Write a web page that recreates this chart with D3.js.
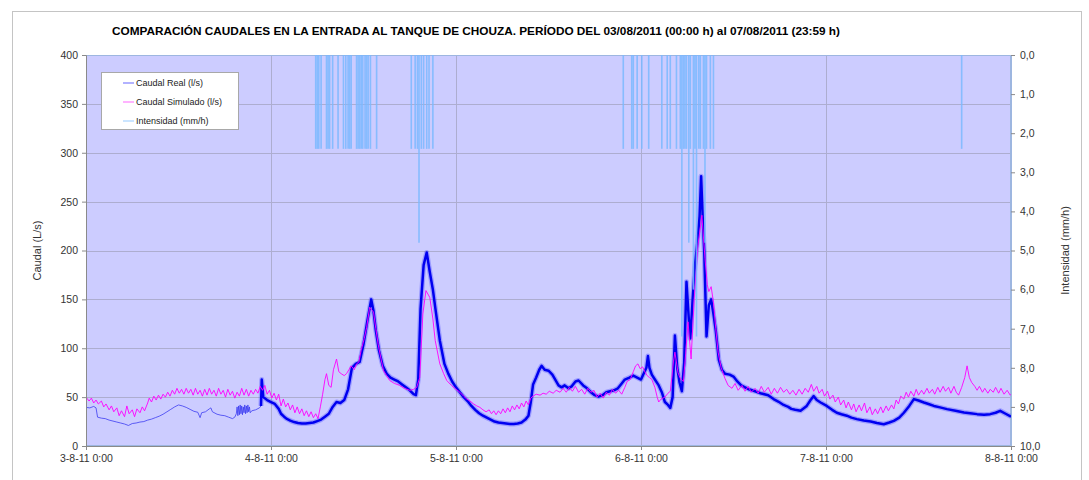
<!DOCTYPE html>
<html><head><meta charset="utf-8">
<script src="https://cdn.jsdelivr.net/npm/d3@7"></script>
<style>
html,body{margin:0;padding:0;background:#fff;}
svg{display:block;font-family:"Liberation Sans",Arial,sans-serif;}
</style></head>
<body><svg id="c" width="1089" height="480"></svg>
<script>
// ---------------- DATA ----------------
const titleText = "COMPARACIÓN CAUDALES EN LA ENTRADA AL TANQUE DE CHOUZA. PERÍODO DEL 03/08/2011 (00:00 h) al 07/08/2011 (23:59 h)";
const xTickHours = [0, 24, 48, 72, 96, 120];
const xTickLabels = ["3-8-11 0:00", "4-8-11 0:00", "5-8-11 0:00", "6-8-11 0:00", "7-8-11 0:00", "8-8-11 0:00"];
const leftTicks = [0, 50, 100, 150, 200, 250, 300, 350, 400];
const rightTicks = [0, 1, 2, 3, 4, 5, 6, 7, 8, 9, 10];
const seriesNames = ["Caudal Real (l/s)", "Caudal Simulado (l/s)", "Intensidad (mm/h)"];

// Caudal real [hour since 03/08 0:00, l/s] - first day (low-noise record)
const realDay1 = [[0,39.5],[0.5,39],[1,40.5],[1.3,39],[1.5,29.5],[2,28.5],[2.5,28],[3,26.5],[3.5,25.5],[4,24.5],[4.5,23.5],[5,22.5],[5.5,21],[6,23],[6.5,23.5],[7,24.5],[7.5,25],[8,26.5],[8.5,27.5],[9,29],[9.5,30.5],[10,32.5],[10.5,35],[11,37.5],[11.5,40],[12,42],[12.5,41],[13,39.5],[13.5,37.5],[14,35.5],[14.5,34.5],[14.8,29],[15,34],[15.5,35],[16,38],[16.2,39],[16.4,35],[17,32.5],[17.5,31.5],[18,31],[18.5,29.5],[19,28],[19.3,29.5],[19.5,33],[19.6,40],[19.7,31],[19.8,41],[19.9,32],[20,42],[20.1,33],[20.2,41],[20.3,32],[20.4,40],[20.5,34],[20.6,42],[20.7,33],[20.8,41],[20.9,34],[21,42],[21.1,35],[21.2,40],[21.3,34],[21.5,36],[22,37],[22.5,39],[22.7,41]];
// Caudal real - rest of the period (noisy record)
const realRest = [[22.7,41],[22.8,68],[23,50],[23.5,47],[24,45],[24.5,43],[25,38],[25.3,33],[25.7,30],[26,28],[26.5,26],[27,24.5],[27.5,23.5],[28,23],[28.5,23],[29,23.5],[29.5,24],[30,25.5],[30.5,27],[31,30],[31.5,33],[32,40],[32.5,45],[33,44],[33.5,47],[34,58],[34.5,80],[35,84],[35.5,86],[36,104],[36.5,128],[37,150],[37.3,138],[37.6,118],[38,98],[38.5,82],[39,74],[39.5,70],[40,68],[40.5,66],[41,63],[41.5,60],[42,57],[42.5,53],[42.8,52],[43.1,68],[43.4,140],[43.8,185],[44.2,198],[44.6,178],[45,160],[45.3,142],[45.9,108],[46.5,84],[47,74],[47.5,66],[48,60],
[48.5,55],[49,50],[49.5,46],[50,41],[50.5,37],[51,33.5],[51.5,31],[52,29],[52.5,27],[53,25],[53.5,24],[54,23.5],[54.5,23],[55,22.5],[55.5,22.5],[56,23],[56.5,24],[57,27],[57.4,31],[57.7,45],[58,63],[58.4,70],[58.8,78],[59.1,82],[59.5,78],[60,77],[60.5,73],[60.8,69],[61.3,62],[61.7,60],[62.1,62],[62.6,59],[63,61],[63.5,66],[63.9,67],[64.5,62],[65,59],[65.5,55],[66,52],[66.5,50.5],[67,52],[67.5,55],[68,56],[68.5,57],[69,59],[69.5,64],[69.9,68],[70.5,70],[71,72],[71.5,70],[72,68],[72.4,75],[72.7,80],[72.9,92],[73.1,80],[73.4,73],[73.8,68],[74.3,62],[74.7,55],[75.1,45],[75.5,42],[75.8,39],[76.1,50],[76.4,113],[76.7,80],[77,65],[77.3,56],[77.6,85],[77.9,168],[78.2,130],[78.4,110],[78.7,150],[79,185],[79.4,215],[79.6,235],[79.8,276],[80,235],[80.2,200],[80.5,112],[80.8,144],[81.1,150],[81.4,135],[81.7,118],[82.1,88],[82.5,78],[82.9,74],[83.5,73],[84,71],[84.5,66],[85,62],[85.5,60],[86,58],[86.8,56],[87.5,54],[88.5,52],[89.2,48],[89.8,45.5],[90.5,42],[91.1,40],[91.5,38],[92,37],
[92.7,36],[93.5,41],[94,47],[94.4,51],[94.8,47],[95.3,44.5],[96.1,41],[96.8,37],[97.4,34],[98,32.5],[98.7,31],[99.3,29],[100,27.5],[100.9,26],[101.8,25],[102.6,23.5],[103.5,22.3],[104.2,24],[104.8,25.7],[105.5,29],[106.1,34],[106.8,41],[107.4,48],[108,46.5],[108.7,44.5],[109.3,43],[110,41],[110.8,39.5],[111.7,37.7],[112.8,36],[113.9,34.3],[114.7,33.5],[115.6,32.6],[116.5,32],[117.3,32.6],[118,34],[118.6,36],[119.3,33],[120,30]];

// Caudal simulado [hour, l/s]
const simulated = [[0,50],[0.4,46],[0.7,49],[1,44],[1.3,47],[1.6,43],[2,46],[2.3,40],[2.6,43],[3,37],[3.3,41],[3.6,35],[4,39],[4.3,31],[4.6,36],[5,30],[5.3,41],[5.6,33],[6,37],[6.3,30],[6.6,38],[7,34],[7.3,40],[7.6,36],[8,44],[8.2,49],[8.5,45],[8.8,51],[9.1,47],[9.4,52],[9.7,48],[10,53],[10.3,50],[10.6,55],[10.9,51],[11.2,57],[11.5,53],[11.8,59],[12.1,54],[12.4,58],[12.7,53],[13,59],[13.3,54],[13.6,58],[13.9,52],[14.2,59],[14.5,53],[14.8,57],[15.1,51],[15.4,58],[15.7,52],[16,59],[16.3,53],[16.6,57],[16.9,51],[17.2,59],[17.5,53],[17.8,57],[18.1,50],[18.4,58],[18.7,52],[19,56],[19.3,49],[19.6,55],[19.9,51],[20.2,59],[20.5,52],[20.8,58],[21.1,51],[21.4,57],[21.7,53],[22,58],[22.3,54],[22.6,61],[22.9,57],[23.2,62],[23.5,53],[23.8,57],
[24.1,49],[24.4,54],[24.7,47],[25,53],[25.3,41],[25.6,48],[25.9,40],[26.2,44],[26.5,37],[26.8,42],[27.1,34],[27.4,40],[27.7,33],[28,38],[28.3,31],[28.6,36],[28.9,30],[29.2,35],[29.5,29],[29.8,33],[30.1,28],[30.4,40],[30.7,53],[31,68],[31.2,74],[31.5,62],[31.8,60],[32.1,78],[32.5,89],[32.8,76],[33.1,74],[33.5,72],[33.8,74],[34.1,78],[34.4,82],[34.8,78],[35.1,84],[35.4,86],[35.7,98],[36.1,110],[36.4,121],[36.8,142],[37.1,139],[37.3,137],[37.6,120],[37.9,104],[38.3,88],[38.6,77],[39,72],[39.4,67],[40,64],[40.7,62],[41.3,59],[42,57],[42.5,58],[42.9,60],[43.3,70],[43.7,135],[44.1,159],[44.6,152],[45,130],[45.3,108],[45.9,84],[46.4,74],[46.8,67],[47.4,62],[48,58],
[48.5,55],[49,51],[49.4,48],[49.8,46],[50.3,43],[50.7,41],[51.1,39.5],[51.5,37],[51.9,35],[52.3,37],[52.6,33],[52.9,36],[53.2,32],[53.5,36],[53.8,33],[54.1,38],[54.4,34],[54.7,39],[55,35],[55.3,41],[55.6,37],[55.9,42],[56.2,38],[56.5,44],[56.8,40],[57.1,46],[57.4,42],[57.7,49],[58,51],[58.4,53],[58.9,52],[59.3,54],[59.7,53],[60.1,56],[60.6,54],[61,57],[61.5,55],[61.9,59],[62.3,55],[62.7,60],[63.1,56],[63.5,61],[63.9,55],[64.3,58],[64.7,53],[65.1,59],[65.5,55],[65.9,57],[66.3,50],[66.7,54],[67.1,49],[67.5,55],[67.9,52],[68.3,58],[68.7,54],[69.1,57],[69.5,53],[69.9,60],[70.2,66],[70.6,68],[71,76],[71.3,82],[71.6,84],[71.9,79],[72.2,81],[72.5,76],[72.8,72],[73.1,70],[73.4,68],[73.8,60],[74.1,50],[74.3,45],[74.6,48],[75.1,50],[75.5,54],[75.8,56],[76,70],[76.2,86],[76.4,96],[76.8,75],[77.1,69],[77.5,66],[77.8,95],[78.1,127],[78.5,89],[78.9,151],[79.4,206],[79.9,236],[80.3,192],[80.6,165],[80.8,158],[81.1,163],[81.4,147],[81.7,120],[82,96],[82.4,80],[82.9,69],[83.3,62],[83.8,59],[84.2,64],[84.6,57],[85.1,62],[85.5,56],[85.9,61],[86.3,55],[86.8,59],[87.2,54],[87.6,61],[88,55],[88.5,60],[88.9,53],[89.3,59],[89.7,54],[90.1,60],[90.5,55],[90.9,58],[91.3,53],[91.7,57],[92.1,52],[92.5,58],[92.9,53],[93.3,59],[93.7,55],[94.1,63],[94.4,56],[94.8,61],[95.1,54],[95.5,58],[95.8,51],
[96.2,56],[96.5,48],[96.9,52],[97.2,45],[97.6,50],[97.9,42],[98.3,47],[98.6,39],[98.9,45],[99.3,37],[99.6,43],[99.9,35],[100.3,42],[100.6,36],[101,44],[101.3,34],[101.7,40],[102,32],[102.4,38],[102.7,33],[103.1,40],[103.4,34],[103.8,41],[104.1,36],[104.5,42],[104.8,38],[105.1,47],[105.4,43],[105.7,51],[106.1,48],[106.4,55],[106.7,50],[107,56],[107.4,51],[107.7,58],[108,52],[108.4,57],[108.7,53],[109.1,59],[109.4,54],[109.8,58],[110.1,53],[110.5,60],[110.8,55],[111.2,61],[111.5,56],[111.9,60],[112.2,54],[112.6,61],[112.9,55],[113.2,52],[113.6,60],[114,70],[114.3,82],[114.6,70],[114.9,65],[115.3,61],[115.6,57],[115.9,61],[116.3,55],[116.6,59],[117,54],[117.3,58],[117.7,55],[118,60],[118.4,54],[118.7,59],[119.1,53],[119.5,57],[119.9,52],[120,53]];

// Intensidad de lluvia [hour, mm/h]
const rainfall = [[29.8,2.4],[30.0,2.4],[30.2,2.4],[30.5,2.4],[31.2,2.4],[31.4,2.4],[31.6,2.4],[32.0,2.4],[32.7,2.4],[33.4,2.4],[33.7,2.4],[34.0,2.4],[34.2,2.4],[34.4,2.4],[35.1,2.4],[35.3,2.4],[35.5,2.4],[35.7,2.4],[35.9,2.4],[36.2,2.4],[36.4,2.4],[36.6,2.4],[36.9,2.4],[37.7,2.4],
[42.2,2.4],[42.7,2.4],[43.0,2.4],[43.2,4.8],[43.5,2.4],[43.8,2.4],[44.2,2.4],[44.5,2.4],[45.0,2.4],
[69.7,2.4],[70.8,2.4],[71.0,2.4],[71.5,2.4],[72.1,2.4],[73.0,2.4],[74.7,2.4],[75.4,2.4],[75.8,2.4],[76.6,2.4],[77.1,2.4],[77.3,7.2],[77.5,2.4],[77.7,2.4],[77.9,2.4],[78.2,4.8],[78.4,2.4],[78.8,6.0],[79.0,2.4],[79.2,7.2],[79.5,2.4],[79.7,2.4],[80.1,2.4],[80.3,4.8],[80.5,2.4],[81.0,2.4],[81.4,2.4],
[113.6,2.4]];

// ---------------- CHART ----------------
const svg = d3.select("#c");
const L = 86, R = 1011, T = 55, B = 446;

const x = d3.scaleLinear().domain([0, 120]).range([L, R]);
const yL = d3.scaleLinear().domain([0, 400]).range([B, T]);
const yR = d3.scaleLinear().domain([0, 10]).range([T, B]);

// outer frame
svg.append("rect").attr("x", 12.5).attr("y", 11.5).attr("width", 1069).attr("height", 490)
  .attr("fill", "#fff").attr("stroke", "#c4c4c4").attr("stroke-width", 1);

// title
svg.append("text").attr("x", 476).attr("y", 35).attr("text-anchor", "middle")
  .attr("font-size", 11).attr("font-weight", "bold").attr("fill", "#000")
  .attr("textLength", 728).attr("lengthAdjust", "spacingAndGlyphs")
  .text(titleText);

// plot background
svg.append("rect").attr("x", L).attr("y", T).attr("width", R - L).attr("height", B - T)
  .attr("fill", "#ccccff");

// gridlines
svg.append("g").selectAll("line").data(leftTicks.filter(d => d > 0 && d < 400)).join("line")
  .attr("x1", L).attr("x2", R).attr("y1", d => Math.round(yL(d)) + 0.5).attr("y2", d => Math.round(yL(d)) + 0.5)
  .attr("stroke", "#adadd0").attr("stroke-width", 1);
svg.append("g").selectAll("line").data(xTickHours.slice(1, -1)).join("line")
  .attr("y1", T).attr("y2", B).attr("x1", d => Math.round(x(d)) + 0.5).attr("x2", d => Math.round(x(d)) + 0.5)
  .attr("stroke", "#adadd0").attr("stroke-width", 1);

// plot border
svg.append("rect").attr("x", L + 0.5).attr("y", T + 0.5).attr("width", R - L - 1).attr("height", B - T - 1)
  .attr("fill", "none").attr("stroke", "#9db6e0").attr("stroke-width", 1);

const line = d3.line().x(d => x(d[0])).y(d => yL(d[1]));
svg.append("clipPath").attr("id", "pc").append("rect")
  .attr("x", L).attr("y", T).attr("width", R - L).attr("height", B - T);
const plot = svg.append("g").attr("clip-path", "url(#pc)");

// caudal real
plot.append("path").datum(realDay1).attr("d", line).attr("fill", "none")
  .attr("stroke", "#3434f0").attr("stroke-width", 1).attr("stroke-opacity", 0.75);
plot.append("path").datum(realRest).attr("d", line).attr("fill", "none")
  .attr("stroke", "#2020ff").attr("stroke-width", 5).attr("stroke-opacity", 0.28).attr("stroke-linejoin", "round");
plot.append("path").datum(realRest).attr("d", line).attr("fill", "none")
  .attr("stroke", "#0000f0").attr("stroke-width", 2.5).attr("stroke-linejoin", "round");

// caudal simulado
plot.append("path").datum(simulated).attr("d", line).attr("fill", "none")
  .attr("stroke", "#ff00ff").attr("stroke-width", 1).attr("stroke-opacity", 0.9);

// intensidad
plot.append("g").selectAll("line").data(rainfall).join("line")
  .attr("x1", d => x(d[0])).attr("x2", d => x(d[0]))
  .attr("y1", yR(0)).attr("y2", d => yR(d[1]))
  .attr("stroke", "#7ab8ff").attr("stroke-width", 1.6).attr("stroke-opacity", 0.85);

// axes
const axColor = "#8a8a8a";
const fmtR = d3.formatLocale({decimal: ",", thousands: ".", grouping: [3], currency: ["", "€"]}).format(".1f");

const axL = svg.append("g").attr("transform", `translate(${L},0)`)
  .call(d3.axisLeft(yL).tickValues(leftTicks).tickSize(4).tickPadding(4).tickFormat(d3.format("d")));
const axR = svg.append("g").attr("transform", `translate(${R},0)`)
  .call(d3.axisRight(yR).tickValues(rightTicks).tickSize(4).tickPadding(5).tickFormat(fmtR));
const axB = svg.append("g").attr("transform", `translate(0,${B})`)
  .call(d3.axisBottom(x).tickValues(xTickHours).tickSize(4).tickPadding(5)
    .tickFormat((d, i) => xTickLabels[i]));
[axL, axR, axB].forEach(a => {
  a.selectAll(".domain").attr("stroke", axColor);
  a.selectAll(".tick line").attr("stroke", axColor);
  a.selectAll("text").attr("font-size", 10.5).attr("fill", "#333")
    .attr("font-family", "'Liberation Sans', Arial, sans-serif");
});
axR.select(".domain").attr("stroke", "#9db6e0");

// axis titles
svg.append("text").attr("transform", `translate(41,${(T + B) / 2}) rotate(-90)`)
  .attr("text-anchor", "middle").attr("font-size", 11).attr("fill", "#333").text("Caudal (L/s)");
svg.append("text").attr("transform", `translate(1069,${(T + B) / 2}) rotate(-90)`)
  .attr("text-anchor", "middle").attr("font-size", 11).attr("fill", "#333").text("Intensidad (mm/h)");

// legend
const lg = svg.append("g");
lg.append("rect").attr("x", 101.5).attr("y", 72.5).attr("width", 137).attr("height", 57)
  .attr("fill", "#fff").attr("stroke", "#a8a8a8");
const legColors = ["#7f7fff", "#ff80ff", "#a8d4ff"];
const legY = [83, 102, 121];
seriesNames.forEach((n, i) => {
  lg.append("line").attr("x1", 123).attr("x2", 134).attr("y1", legY[i]).attr("y2", legY[i])
    .attr("stroke", legColors[i]).attr("stroke-width", 1.2);
  lg.append("text").attr("x", 136).attr("y", legY[i] + 3).attr("font-size", 9).attr("fill", "#222").text(n);
});
</script></body></html>
